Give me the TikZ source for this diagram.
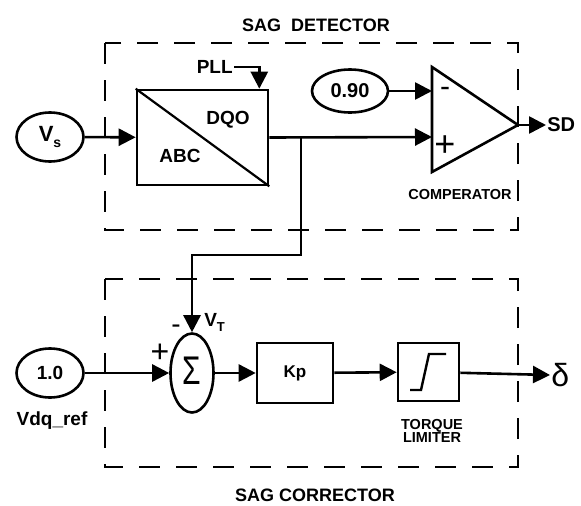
\documentclass[tikz,border=0pt]{standalone}
\usepackage{fontspec}
\setmainfont{Liberation Sans}
\usetikzlibrary{shapes.geometric,arrows.meta,positioning}
\newcommand{\fsz}[1]{\fontsize{#1}{#1}\selectfont}

\begin{document}
\begin{tikzpicture}[x=1pt,y=-1pt,line width=2.6pt,
  blk/.style={draw,rectangle,line width=2.6pt,inner sep=0pt},
  src/.style={draw,ellipse,line width=2.6pt,inner sep=0pt,font=\fsz{19}\bfseries},
  lbl/.style={inner sep=0pt,font=\fsz{19}\bfseries},
  sml/.style={inner sep=0pt,font=\fsz{14.5}\bfseries,align=center},
  grp/.style={dash pattern=on 21pt off 16pt,line width=2.8pt},
  arr/.style={-{Triangle[length=17pt,width=17pt]},line width=2.6pt}]
\useasboundingbox (0,0) rectangle (581,506);
% group frames
\draw[grp] (105,43) rectangle (518,230);
\draw[grp] (105,279) rectangle (518,467);
\node[lbl,font=\fsz{18}\bfseries] (dettitle) at (316,25) {SAG\ \ DETECTOR};
\node[lbl,font=\fsz{18}\bfseries] (cortitle) at (315,495) {SAG CORRECTOR};
% sag detector
\node[src,minimum width=67pt,minimum height=49pt] (vs) at (50,137)
 {\fsz{22}V\raisebox{-6pt}{\fsz{14}s}};
\node[blk,minimum width=131pt,minimum height=95pt] (conv) at (202.5,137.5) {};
\draw[line width=2.2pt] (conv.north west) -- (conv.south east);
\node[lbl] (dqo) at (228,120) {DQO};
\node[lbl] (abc) at (180,156) {ABC};
\node[lbl,anchor=east] (pll) at (234,67) {PLL};
\node[src,minimum width=76pt,minimum height=43pt,font=\fsz{20}\bfseries] (ref90) at (350,91) {0.90};
\coordinate (cmptop) at (432,67);
\coordinate (cmpbot) at (432,172);
\coordinate (cmpout) at (518,125);
\coordinate (cmpminus) at (432,91);
\coordinate (cmpplus) at (432,137);
\draw[line join=miter] (cmptop) -- (cmpout) -- (cmpbot) -- cycle;
\node[inner sep=0pt,font=\fsz{30}] (minus1) at (445,92) {-};
\node[inner sep=0pt,font=\fsz{36}] (plus1) at (445,146) {+};
\node[lbl,anchor=west,font=\fsz{20}\bfseries] (sd) at (546,125) {SD};
\node[sml] (cmplbl) at (460,195) {COMPERATOR};
\coordinate (tap) at (301,137.5);
\coordinate (bend) at (301,255);
\draw[arr] (vs) -- (conv);
\draw[arr] (pll.east) -| ([xshift=-10pt]conv.north east);
\draw[arr] (ref90) -- (cmpminus);
\draw[arr] (conv.east) -- (cmpplus);
\draw[arr] (cmpout) -- (sd.west);
% sag corrector
\node[src,minimum width=67pt,minimum height=49pt] (ref10) at (50,373) {1.0};
\node[lbl] (vdqref) at (52,421) {Vdq\_ref};
\node[draw,ellipse,inner sep=0pt,minimum width=43pt,minimum height=79pt] (sum) at (192,373) {};
\node[inner sep=0pt,font=\fsz{40}] (sigma) at (192,371) {\scalebox{0.75}[1]{Σ}};
\node[inner sep=0pt,font=\fsz{32}] (plus2) at (160,353) {+};
\node[inner sep=0pt,font=\fsz{28}] (minus2) at (176,329) {-};
\node[lbl,anchor=west] (vt) at (203,322) {V\raisebox{-5pt}{\fsz{13}T}};
\node[blk,minimum width=76pt,minimum height=60pt,font=\fsz{17}\bfseries] (kp) at (295,373) {Kp};
\node[blk,minimum width=61pt,minimum height=58pt] (lim) at (428.5,372) {};
\draw[line width=2.4pt] (410,390) -- (421,390) -- (429,354) -- (446,354);
\node[sml] (limlbl) at (432,431) {TORQUE\\[-1pt]LIMITER};
\node[inner sep=0pt,anchor=west,font=\fsz{32}] (delta) at (550,375) {δ};
\draw[arr] (tap) -- (bend) -| (sum.north);
\draw[arr] (ref10) -- (sum);
\draw[arr] (sum) -- (kp);
\draw[arr] (kp) -- (lim);
\draw[arr] (lim) -- (delta.west);
\end{tikzpicture}
\end{document}
